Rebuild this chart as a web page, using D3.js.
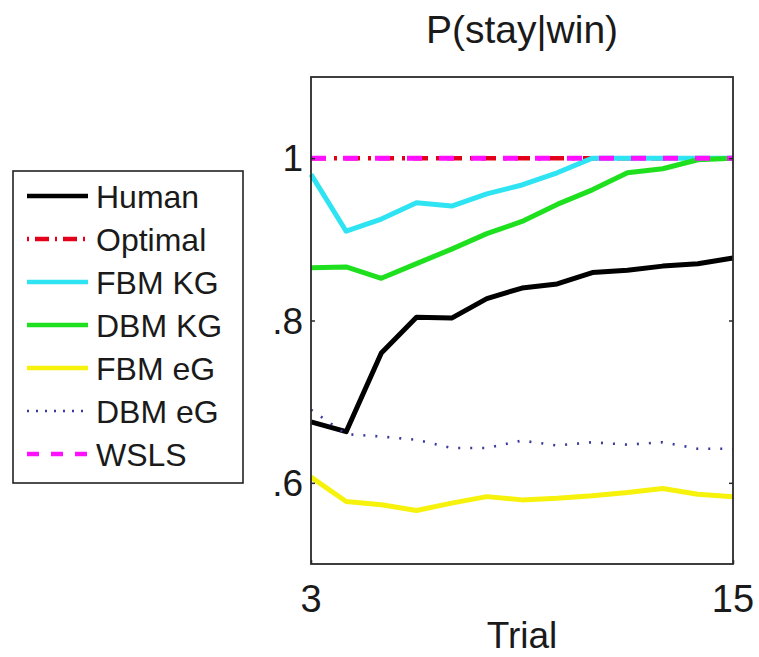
<!DOCTYPE html>
<html>
<head>
<meta charset="utf-8">
<script src="https://cdn.jsdelivr.net/npm/d3@7"></script>
<style>
  html, body { margin: 0; padding: 0; background: #fff; }
  svg { display: block; font-family: "Liberation Sans", Arial, Helvetica, sans-serif; }
</style>
</head>
<body>
<svg id="chart" width="759" height="657"></svg>
<script>
// ---- Data ----
const trials = [3, 4, 5, 6, 7, 8, 9, 10, 11, 12, 13, 14, 15];
const human   = [0.675, 0.663, 0.760, 0.804, 0.803, 0.827, 0.840, 0.845, 0.859, 0.862, 0.867, 0.870, 0.877];
const optimal = [1, 1, 1, 1, 1, 1, 1, 1, 1, 1, 1, 1, 1];
const fbmKG   = [0.980, 0.910, 0.925, 0.945, 0.941, 0.956, 0.967, 0.982, 1.0, 1.0, 1.0, 1.0, 1.0];
const dbmKG   = [0.865, 0.866, 0.852, 0.870, 0.888, 0.907, 0.922, 0.943, 0.961, 0.982, 0.987, 0.998, 1.0];
const fbmEG   = [0.607, 0.577, 0.573, 0.566, 0.575, 0.583, 0.579, 0.581, 0.584, 0.588, 0.593, 0.586, 0.583];
const dbmEG   = [0.690, 0.660, 0.657, 0.653, 0.643, 0.643, 0.652, 0.646, 0.650, 0.647, 0.650, 0.642, 0.642];
const wsls    = [1, 1, 1, 1, 1, 1, 1, 1, 1, 1, 1, 1, 1];

const seriesNames = ["Human", "Optimal", "FBM KG", "DBM KG", "FBM eG", "DBM eG", "WSLS"];
const seriesValues = [human, optimal, fbmKG, dbmKG, fbmEG, dbmEG, wsls];
const xTicks = [3, 15];
const xTickLabels = ["3", "15"];
const yTicks = [0.6, 0.8, 1.0];
const yTickLabels = [".6", ".8", "1"];
const titleText = "P(stay|win)";
const xLabelText = "Trial";

// ---- Styles ----
const styles = [
  { color: "#000000", width: 5,   dash: null,          legendDash: null },
  { color: "#e3001b", width: 4.5, dash: "15,8,3,8",     legendDash: "2,6,14,6" },
  { color: "#2fe4f2", width: 5,   dash: null,          legendDash: null },
  { color: "#1fe01f", width: 5,   dash: null,          legendDash: null },
  { color: "#f6f20c", width: 5,   dash: null,          legendDash: null },
  { color: "#3a3a9e", width: 2.6, dash: "2,10",         legendDash: "2,7" },
  { color: "#ff10ff", width: 5,   dash: "15,17",        legendDash: "12,12" }
];

const svg = d3.select("#chart");
const L = 311, R = 733, T = 77, B = 564;

const x = d3.scaleLinear().domain([3, 15]).range([L, R]);
const y = d3.scaleLinear().domain([0.5, 1.1]).range([B, T]);

// Title
svg.append("text")
  .attr("x", (L + R) / 2).attr("y", 43)
  .attr("text-anchor", "middle")
  .attr("font-size", 39).attr("fill", "#1a1a1a")
  .text(titleText);

// Plot lines
const plot = svg.append("g");
const line = d3.line().x((d, i) => x(trials[i])).y(d => y(d));
seriesValues.forEach((vals, k) => {
  const s = styles[k];
  plot.append("path")
    .datum(vals)
    .attr("d", line)
    .attr("fill", "none")
    .attr("stroke", s.color)
    .attr("stroke-width", s.width)
    .attr("stroke-linejoin", "round")
    .attr("stroke-dasharray", s.dash);
});

// Frame
svg.append("rect")
  .attr("x", L).attr("y", T).attr("width", R - L).attr("height", B - T)
  .attr("fill", "none").attr("stroke", "#2a2a2a").attr("stroke-width", 1.8);

// Y axis ticks (left and right, inside)
const yAxisL = d3.axisRight(y).tickValues(yTicks).tickSize(4).tickFormat(() => "");
svg.append("g").attr("transform", `translate(${L},0)`).call(yAxisL)
  .call(g => g.select(".domain").remove())
  .call(g => g.selectAll("line").attr("stroke", "#2a2a2a").attr("stroke-width", 1.5));
const yAxisR = d3.axisLeft(y).tickValues(yTicks).tickSize(4).tickFormat(() => "");
svg.append("g").attr("transform", `translate(${R},0)`).call(yAxisR)
  .call(g => g.select(".domain").remove())
  .call(g => g.selectAll("line").attr("stroke", "#2a2a2a").attr("stroke-width", 1.5));

// Y tick labels
svg.append("g").selectAll("text")
  .data(yTicks)
  .join("text")
  .attr("x", 303)
  .attr("y", d => y(d) + 13)
  .attr("text-anchor", "end")
  .attr("font-size", 37)
  .attr("fill", "#1a1a1a")
  .text((d, i) => yTickLabels[i]);

// X axis ticks & labels
const xAxis = d3.axisTop(x).tickValues(xTicks).tickSize(4).tickFormat(() => "");
svg.append("g").attr("transform", `translate(0,${B})`).call(xAxis)
  .call(g => g.select(".domain").remove())
  .call(g => g.selectAll("line").attr("stroke", "#2a2a2a").attr("stroke-width", 1.5));
svg.append("g").selectAll("text")
  .data(xTicks)
  .join("text")
  .attr("x", d => x(d))
  .attr("y", 612)
  .attr("text-anchor", "middle")
  .attr("font-size", 38)
  .attr("fill", "#1a1a1a")
  .text((d, i) => xTickLabels[i]);

// X label
svg.append("text")
  .attr("x", (L + R) / 2).attr("y", 648)
  .attr("text-anchor", "middle")
  .attr("font-size", 37).attr("fill", "#1a1a1a")
  .text(xLabelText);

// Legend
const lg = svg.append("g");
lg.append("rect")
  .attr("x", 13).attr("y", 171).attr("width", 230).attr("height", 312)
  .attr("fill", "#fff").attr("stroke", "#222").attr("stroke-width", 1.6);
const rowY = d3.scalePoint().domain(seriesNames).range([208, 466]);
seriesNames.forEach((name, k) => {
  const s = styles[k];
  const by = rowY(name);
  lg.append("line")
    .attr("x1", 27).attr("x2", 88)
    .attr("y1", by - 12).attr("y2", by - 12)
    .attr("stroke", s.color)
    .attr("stroke-width", Math.min(s.width, 4.5))
    .attr("stroke-dasharray", s.legendDash);
  lg.append("text")
    .attr("x", 96).attr("y", by)
    .attr("font-size", 32).attr("fill", "#1a1a1a")
    .text(name);
});
</script>
</body>
</html>
